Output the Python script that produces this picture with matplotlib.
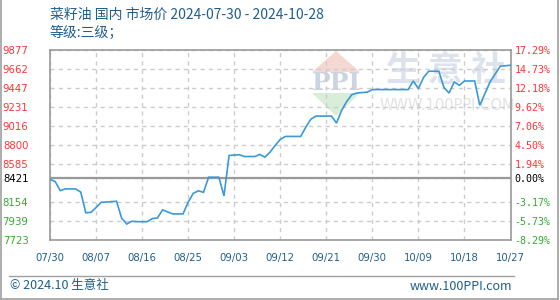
import matplotlib
matplotlib.use('Agg')
import matplotlib.pyplot as plt
from matplotlib.patches import Polygon, Rectangle
from matplotlib.lines import Line2D

# ---- data (days since 2024-07-30, price in CNY/t) ----
days = [0, 1, 2, 3, 5, 6, 7, 8, 9, 10, 13, 14, 15, 16, 17, 19, 20, 21, 22, 23,
        24, 26, 27, 28, 29, 30, 31, 33, 34, 35, 37, 38, 40, 41, 42, 43, 44, 45,
        46, 49, 50, 51, 52, 55, 56, 57, 58, 59, 60, 62, 63, 70, 71, 72, 73, 74,
        76, 77, 78, 79, 80, 81, 83, 84, 85, 86, 87, 88, 90]
prices = [8410, 8384, 8282, 8301, 8301, 8265, 8030, 8036, 8090, 8149, 8161, 7970,
          7904, 7935, 7930, 7930, 7965, 7972, 8063, 8040, 8018, 8018, 8150, 8251,
          8279, 8262, 8433, 8433, 8222, 8679, 8687, 8667, 8667, 8690, 8660, 8716,
          8792, 8860, 8894, 8894, 9000, 9090, 9124, 9124, 9045, 9189, 9290, 9367,
          9385, 9395, 9424, 9424, 9521, 9435, 9560, 9631, 9631, 9446, 9385, 9510,
          9472, 9521, 9521, 9246, 9378, 9510, 9600, 9688, 9699]
base = 8421
yticks = [7723, 7939, 8154, 8421, 8585, 8800, 9016, 9231, 9447, 9662, 9877]
pct_labels = ['-8.29%', '-5.73%', '-3.17%', '0.00%', '1.94%', '4.50%', '7.06%',
              '9.62%', '12.18%', '14.73%', '17.29%']
xtick_days = [0, 9, 18, 27, 36, 45, 54, 63, 72, 81, 90]
xtick_labels = ['07/30', '08/07', '08/16', '08/25', '09/03', '09/12', '09/21',
                '09/30', '10/09', '10/18', '10/27']
title = '菜籽油 国内 市场价 2024-07-30 - 2024-10-28'
subtitle = '等级:三级；'
footer_left = '© 2024.10 生意社'
footer_right = 'www.100PPI.com'

CJK = ['Noto Sans CJK SC', 'DejaVu Sans']
BLUE_TXT = '#1f5e8c'
RED = '#ff3333'
GREEN = '#33aa33'
LINE = '#3a9ad9'

W, H = 560, 300
fig = plt.figure(figsize=(W / 100, H / 100), dpi=100)
def fx(x): return x / W
def fy(y): return 1 - y / H

ax = fig.add_axes([fx(50), fy(240), (510.5 - 50) / W, (240 - 49.5) / H])
ax.set_xlim(0, 90)
ax.set_ylim(yticks[0], yticks[-1])
ax.set_facecolor('white')

ax.set_yticks(yticks)
ax.set_xticks(xtick_days)
ax.set_xticklabels(xtick_labels)
ax.set_axisbelow(True)
ax.grid(True, ls=(0, (3, 3)), color='#cccccc', lw=1)
ax.axhline(base, color='#999999', lw=1.6, zorder=1.5)

for s in ax.spines.values():
    s.set_color('#999999')
    s.set_linewidth(1.2)

ax.tick_params(axis='both', length=0)
ax.tick_params(axis='y', pad=15.5, labelsize=7.3)
ax.tick_params(axis='x', pad=9, labelsize=7.3, labelcolor=BLUE_TXT)
for lab, v in zip(ax.get_yticklabels(), yticks):
    lab.set_color(RED if v > base else ('black' if v == base else GREEN))

ax2 = ax.twinx()
ax2.set_ylim(yticks[0], yticks[-1])
ax2.set_yticks(yticks)
ax2.set_yticklabels(pct_labels, family='DejaVu Sans Mono', fontsize=7.2)
ax2.tick_params(axis='y', length=0, pad=3)
for s in ax2.spines.values():
    s.set_visible(False)
for lab, v in zip(ax2.get_yticklabels(), yticks):
    lab.set_color(RED if v > base else ('black' if v == base else GREEN))

# watermark
ax.add_patch(Polygon([(fx(312), fy(72)), (fx(360), fy(72)), (fx(336), fy(51))],
                     closed=True, transform=fig.transFigure, facecolor='#f6d8d2',
                     edgecolor='none', zorder=0.2))
ax.add_patch(Polygon([(fx(312), fy(93)), (fx(360), fy(93)), (fx(336), fy(116))],
                     closed=True, transform=fig.transFigure, facecolor='#d8eed8',
                     edgecolor='none', zorder=0.2))
ax.text(fx(336), fy(82.5), 'PPI', transform=fig.transFigure, ha='center', va='center',
        fontsize=18, fontweight='bold', family='DejaVu Serif', color='#ccd4e4', zorder=0.3)
for ch, cx in zip('生意社', [403, 445, 488]):
    ax.text(fx(cx), fy(70), ch, transform=fig.transFigure, ha='center', va='center',
            fontsize=25, fontweight='bold', family=CJK, color='#dde2ec', zorder=0.3)
ax.text(fx(447), fy(105), 'WWW.100PPI.COM', transform=fig.transFigure, ha='center',
        va='center', fontsize=10.5, family='DejaVu Sans', color='#e2e2e2', zorder=0.3)

ax.plot(days, prices, color=LINE, lw=1.2, zorder=3, solid_joinstyle='miter')

# titles
fig.text(fx(50), fy(15), title, ha='left', va='center', fontsize=10, family=CJK, color=BLUE_TXT)
fig.text(fx(50), fy(33), subtitle, ha='left', va='center', fontsize=10, family=CJK, color=BLUE_TXT)

# footer
fig.add_artist(Line2D([fx(9), fx(514)], [fy(275.5), fy(275.5)], transform=fig.transFigure,
                      color='#a0a0a0', lw=1))
fig.text(fx(10), fy(286), footer_left, ha='left', va='center', fontsize=9, family=CJK, color=BLUE_TXT)
fig.text(fx(512), fy(286), footer_right, ha='right', va='center', fontsize=9, family=CJK, color=BLUE_TXT)

# outer border (left, right, bottom)
for xs, ys in [([0.7, 0.7], [0, 299.3]), ([557.5, 557.5], [0, 299.3]), ([0.7, 557.5], [298.8, 298.8])]:
    fig.add_artist(Line2D([fx(x) for x in xs], [fy(y) for y in ys], transform=fig.transFigure,
                          color='#a0a0a0', lw=1.2))

fig.savefig('out.png', dpi=100)
